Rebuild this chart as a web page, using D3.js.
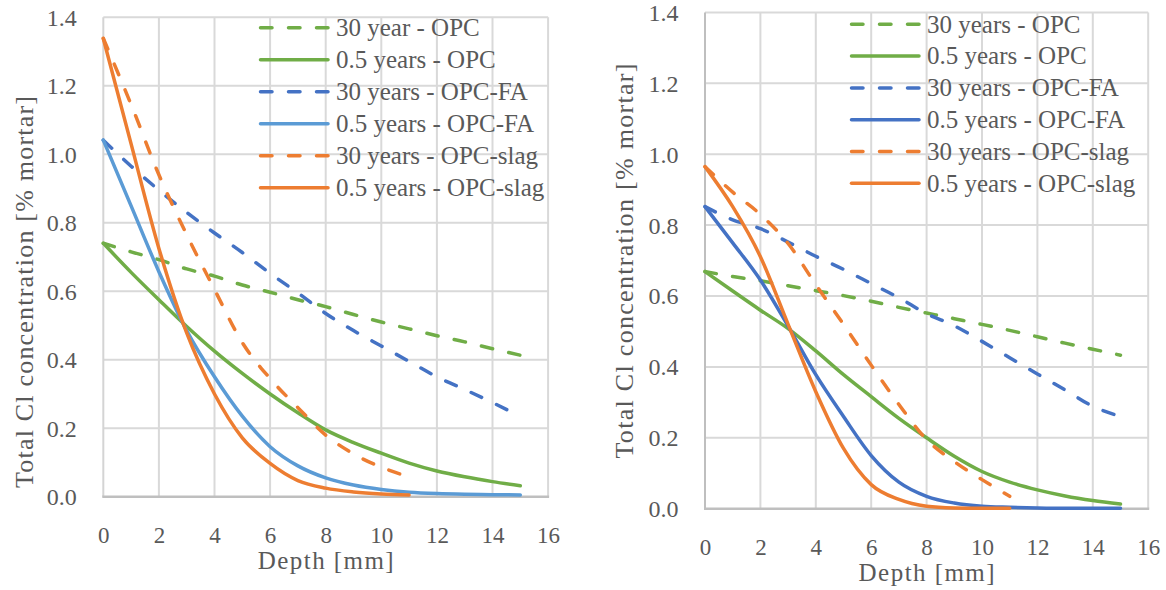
<!DOCTYPE html>
<html>
<head>
<meta charset="utf-8">
<script src="https://cdn.jsdelivr.net/npm/d3@7"></script>
<style>
  html, body { margin: 0; padding: 0; background: #fff; }
  svg { display: block; }
  svg text { font-family: 'Liberation Serif', 'DejaVu Serif', 'Noto Serif', 'Times New Roman', Times, serif; fill: #595959; }
</style>
</head>
<body>
<svg id="chart" width="1166" height="590"></svg>
<script>
// ---------------- DATA ----------------
const xTicks = [0, 2, 4, 6, 8, 10, 12, 14, 16];
const yTicks = [0.0, 0.2, 0.4, 0.6, 0.8, 1.0, 1.2, 1.4];
const xTitle = "Depth [mm]";
const yTitle = "Total Cl concentration [% mortar]";

const depthLong = [0, 1, 2, 3, 4, 5, 6, 7, 8, 9, 10, 11, 12, 13, 14, 15];
const depthShort = [0, 1, 2, 3, 4, 5, 6, 7, 8, 9, 10, 11];

// Left chart
const leftLabels = ["30 year - OPC", "0.5 years - OPC", "30 years - OPC-FA", "0.5 years - OPC-FA", "30 years - OPC-slag", "0.5 years - OPC-slag"];
const left30OPC   = [0.74, 0.715, 0.692, 0.665, 0.644, 0.618, 0.597, 0.575, 0.555, 0.532, 0.51, 0.49, 0.47, 0.452, 0.432, 0.413];
const left05OPC   = [0.74, 0.655, 0.575, 0.497, 0.425, 0.36, 0.30, 0.245, 0.195, 0.158, 0.127, 0.098, 0.075, 0.058, 0.044, 0.032];
const left30FA    = [1.041, 0.965, 0.895, 0.83, 0.77, 0.713, 0.652, 0.595, 0.535, 0.485, 0.44, 0.395, 0.35, 0.313, 0.275, 0.234];
const left05FA    = [1.041, 0.849, 0.657, 0.485, 0.35, 0.235, 0.146, 0.09, 0.055, 0.034, 0.021, 0.013, 0.009, 0.007, 0.006, 0.005];
const left30Slag  = [1.338, 1.145, 0.94, 0.765, 0.605, 0.45, 0.345, 0.26, 0.18, 0.125, 0.086, 0.058];
const left05Slag  = [1.338, 1.03, 0.725, 0.478, 0.30, 0.172, 0.097, 0.047, 0.025, 0.014, 0.008, 0.005];

// Right chart
const rightLabels = ["30 years - OPC", "0.5 years - OPC", "30 years - OPC-FA", "0.5 years - OPC-FA", "30 years - OPC-slag", "0.5 years - OPC-slag"];
const right30OPC  = [0.669, 0.655, 0.643, 0.629, 0.615, 0.601, 0.585, 0.568, 0.552, 0.536, 0.52, 0.503, 0.485, 0.467, 0.45, 0.433];
const right05OPC  = [0.669, 0.614, 0.56, 0.508, 0.445, 0.378, 0.316, 0.255, 0.2, 0.148, 0.105, 0.075, 0.053, 0.036, 0.023, 0.013];
const right30FA   = [0.852, 0.815, 0.79, 0.752, 0.712, 0.675, 0.635, 0.595, 0.55, 0.516, 0.472, 0.426, 0.38, 0.335, 0.289, 0.26];
const right05FA   = [0.852, 0.75, 0.645, 0.515, 0.378, 0.26, 0.15, 0.075, 0.035, 0.016, 0.007, 0.004, 0.002, 0.001, 0.001, 0.001];
const right30Slag = [0.965, 0.893, 0.83, 0.748, 0.632, 0.52, 0.405, 0.294, 0.195, 0.133, 0.082, 0.035];
const right05Slag = [0.965, 0.852, 0.711, 0.52, 0.33, 0.17, 0.068, 0.026, 0.007, 0.002, 0.001, 0.001];

// ---------------- STYLE ----------------
const FONT = "'Liberation Serif', 'DejaVu Serif', 'Noto Serif', 'Times New Roman', Times, serif";
const GREEN = "#70AD47", BLUE = "#4472C4", LIGHTBLUE = "#5B9BD5", ORANGE = "#ED7D31";
const DASH = "11.5,16.5";

const charts = [
  {
    box: { x0: 103.3, x1: 548.1, yTop: 17.2, yBot: 496.7 },
    yAxisColor: "#D4D4D4",
    yTitleX: 33, yTitleY: 292, yTitleLen: 392,
    legend: { x0: 260.5, x1: 328, tx: 336, y0: 27.7, dy: 32 },
    series: [
      { label: leftLabels[0], x: depthLong,  y: left30OPC,  color: GREEN,     dash: true },
      { label: leftLabels[1], x: depthLong,  y: left05OPC,  color: GREEN,     dash: false },
      { label: leftLabels[2], x: depthLong,  y: left30FA,   color: BLUE,      dash: true },
      { label: leftLabels[3], x: depthLong,  y: left05FA,   color: LIGHTBLUE, dash: false },
      { label: leftLabels[4], x: depthShort, y: left30Slag, color: ORANGE,    dash: true },
      { label: leftLabels[5], x: depthShort, y: left05Slag, color: ORANGE,    dash: false }
    ]
  },
  {
    box: { x0: 705, x1: 1148.2, yTop: 12.4, yBot: 508.7 },
    yAxisColor: "#BFBFBF",
    yTitleX: 633, yTitleY: 261, yTitleLen: 395,
    legend: { x0: 851.5, x1: 919, tx: 927, y0: 24.3, dy: 31.8 },
    series: [
      { label: rightLabels[0], x: depthLong,  y: right30OPC,  color: GREEN,  dash: true },
      { label: rightLabels[1], x: depthLong,  y: right05OPC,  color: GREEN,  dash: false },
      { label: rightLabels[2], x: depthLong,  y: right30FA,   color: BLUE,   dash: true },
      { label: rightLabels[3], x: depthLong,  y: right05FA,   color: BLUE,   dash: false },
      { label: rightLabels[4], x: depthShort, y: right30Slag, color: ORANGE, dash: true },
      { label: rightLabels[5], x: depthShort, y: right05Slag, color: ORANGE, dash: false }
    ]
  }
];

const svg = d3.select("#chart").attr("font-family", FONT);

charts.forEach(ch => {
  const b = ch.box;
  const x = d3.scaleLinear().domain([0, 16]).range([b.x0, b.x1]);
  const y = d3.scaleLinear().domain([0, 1.4]).range([b.yBot, b.yTop]);
  const g = svg.append("g");

  // gridlines
  g.append("g").selectAll("line").data(xTicks.filter(t => t > 0)).join("line")
    .attr("x1", d => x(d)).attr("x2", d => x(d))
    .attr("y1", y(1.4)).attr("y2", y(0))
    .attr("stroke", "#D9D9D9").attr("stroke-width", 2);
  g.append("g").selectAll("line").data(yTicks.filter(t => t > 0)).join("line")
    .attr("x1", x(0)).attr("x2", x(16))
    .attr("y1", d => y(d)).attr("y2", d => y(d))
    .attr("stroke", "#D9D9D9").attr("stroke-width", 2);

  // axes lines
  g.append("line").attr("x1", x(0)).attr("x2", x(0)).attr("y1", y(1.4)).attr("y2", y(0))
    .attr("stroke", ch.yAxisColor).attr("stroke-width", 2);
  g.append("line").attr("x1", x(0) - 1).attr("x2", x(16) + 1).attr("y1", y(0)).attr("y2", y(0))
    .attr("stroke", "#BFBFBF").attr("stroke-width", 2.5);

  // tick labels via d3 axes (domain and tick lines hidden)
  const xAxis = d3.axisBottom(x).tickValues(xTicks).tickFormat(d3.format("d")).tickSize(0).tickPadding(0);
  const xa = g.append("g").attr("transform", `translate(0,${y(0)})`).call(xAxis)
    .attr("font-family", FONT).attr("font-size", 23);
  xa.select(".domain").remove();
  xa.selectAll("text").attr("font-family", FONT).attr("fill", "#595959")
    .attr("dy", null).attr("y", 46.5);

  const yAxis = d3.axisLeft(y).tickValues(yTicks).tickFormat(d3.format(".1f")).tickSize(0).tickPadding(0);
  const ya = g.append("g").attr("transform", `translate(${x(0) - 26.5},0)`).call(yAxis)
    .attr("font-family", FONT).attr("font-size", 24);
  ya.select(".domain").remove();
  ya.selectAll("text").attr("font-family", FONT).attr("fill", "#595959")
    .attr("dy", "0.33em");

  // axis titles
  g.append("text").attr("x", (b.x0 + b.x1) / 2).attr("y", y(0) + 72.5)
    .attr("font-family", FONT).attr("text-anchor", "middle").attr("font-size", 25)
    .attr("textLength", 136).attr("lengthAdjust", "spacing").text(xTitle);
  g.append("text").attr("transform", `translate(${ch.yTitleX},${ch.yTitleY}) rotate(-90)`)
    .attr("font-family", FONT).attr("text-anchor", "middle").attr("font-size", 26)
    .attr("textLength", ch.yTitleLen).attr("lengthAdjust", "spacing").text(yTitle);

  // series
  const line = d3.line().x(d => x(d[0])).y(d => y(d[1])).curve(d3.curveMonotoneX);
  ch.series.forEach(s => {
    const pts = s.x.map((xv, i) => [xv, s.y[i]]);
    g.append("path").attr("d", line(pts))
      .attr("fill", "none").attr("stroke", s.color).attr("stroke-width", 3.5)
      .attr("stroke-linecap", "round").attr("stroke-linejoin", "round")
      .attr("stroke-dasharray", s.dash ? DASH : null);
  });

  // legend
  const L = ch.legend;
  const lg = g.append("g");
  ch.series.forEach((s, i) => {
    const yy = L.y0 + i * L.dy;
    lg.append("line").attr("x1", L.x0).attr("x2", L.x1).attr("y1", yy).attr("y2", yy)
      .attr("stroke", s.color).attr("stroke-width", 3.5).attr("stroke-linecap", "round")
      .attr("stroke-dasharray", s.dash ? DASH : null);
    lg.append("text").attr("x", L.tx).attr("y", yy).attr("dy", "0.33em")
      .attr("font-family", FONT).attr("font-size", 25).text(s.label);
  });
});
</script>
</body>
</html>
